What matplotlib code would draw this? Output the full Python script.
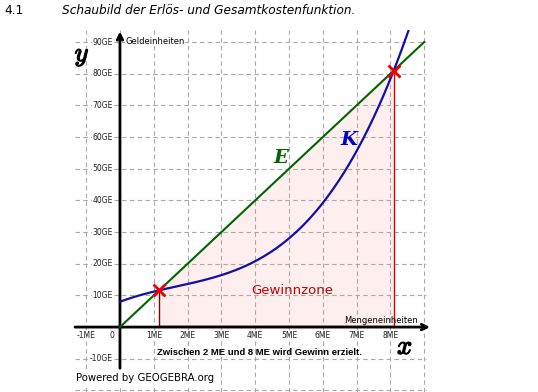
import matplotlib
matplotlib.use("Agg")
import matplotlib.pyplot as plt
import matplotlib.patheffects as pe
import numpy as np

# Kostenfunktion K(x) = a x^3 + b x^2 + c x + d, Erloesfunktion E(x) = p x
k_coeffs = [0.2, -1.0, 4.0, 8.0]
e_price = 10.0

x_ticks = [-1, 1, 2, 3, 4, 5, 6, 7, 8]
x_tick_labels = ["-1ME", "1ME", "2ME", "3ME", "4ME", "5ME", "6ME", "7ME", "8ME"]
y_ticks = [-10, 10, 20, 30, 40, 50, 60, 70, 80, 90]
y_tick_labels = ["-10GE", "10GE", "20GE", "30GE", "40GE", "50GE", "60GE", "70GE", "80GE", "90GE"]

xmin, xmax = -1.33, 9.2
ymin, ymax = -20.5, 93.8

plt.rcParams["mathtext.fontset"] = "cm"


def K(x):
    return np.polyval(k_coeffs, x)


def E(x):
    return e_price * np.asarray(x)


# Schnittpunkte K = E (Gewinnschwelle / -grenze)
diff = list(k_coeffs)
diff[2] -= e_price
roots = np.roots(diff)
roots = np.sort([r.real for r in roots if abs(r.imag) < 1e-9 and r.real > 0])
x1, x2 = roots[0], roots[1]

fig = plt.figure(figsize=(5.38, 3.92), dpi=100)
ax = fig.add_axes([75 / 538, 0, 356 / 538, 362 / 392])
ax.set_xlim(xmin, xmax)
ax.set_ylim(ymin, ymax)
ax.axis("off")

# Gitter
grid_kw = dict(color="#a8a8a8", lw=0.8, ls=(0, (4, 3)), zorder=1)
for gx in range(-1, 10):
    ax.axvline(gx, **grid_kw)
for gy in range(-20, 100, 10):
    if gy != 0:
        ax.plot([xmin, 9.05], [gy, gy], **grid_kw)

# Gewinnzone
xs = np.linspace(x1, x2, 200)
ax.fill_between(xs, 0, E(xs), color="#ffeeee", zorder=0.5, lw=0)
ax.plot([x1, x1], [0, E(x1)], color="#800000", lw=1, zorder=2)
ax.plot([x2, x2], [0, E(x2)], color="#e00000", lw=1, zorder=2)
ax.plot([x1, x2], [0.4, 0.4], color="#800000", lw=1, zorder=2)

# Achsen
ax.annotate("", xy=(xmax - 0.03, 0), xytext=(xmin, 0),
            arrowprops=dict(arrowstyle="->", lw=2, color="black",
                            shrinkA=0, shrinkB=0), zorder=3)
ax.annotate("", xy=(0, ymax - 0.5), xytext=(0, -13),
            arrowprops=dict(arrowstyle="->", lw=2, color="black",
                            shrinkA=0, shrinkB=0), zorder=3)

# Graphen
xe = np.linspace(0, 9, 100)
ax.plot(xe, E(xe), color="#006400", lw=1.5, zorder=4)
xk = np.linspace(0, 8.7, 300)
ax.plot(xk, K(xk), color="#1010a8", lw=1.6, zorder=4)
ax.plot([x1, x2], [E(x1), E(x2)], ls="none", marker="x", ms=9, mew=2,
        color="#ee0000", zorder=5)

# Beschriftungen der Achsen
for t, lab in zip(x_ticks, x_tick_labels):
    ax.text(t, -2.8, lab, fontsize=5.5, color="#222222", ha="center", va="center")
ax.text(-0.24, -2.8, "0", fontsize=5.5, color="#222222", ha="center", va="center")
for t, lab in zip(y_ticks, y_tick_labels):
    ax.text(-0.21, t, lab, fontsize=5.5, color="#222222", ha="right", va="center",
            bbox=dict(facecolor="white", edgecolor="none", pad=0.3))
ax.text(0.15, 90.3, "Geldeinheiten", fontsize=6, ha="left", va="center",
        bbox=dict(facecolor="white", edgecolor="none", pad=0.3))
ax.text(8.82, 2.0, "Mengeneinheiten", fontsize=6, ha="right", va="center")

bold_stroke = [pe.withStroke(linewidth=0.9, foreground="black")]
serif = dict(family="DejaVu Serif", style="italic", weight="bold")
ax.text(-1.12, 85.9, r"$y$", fontsize=19, ha="center", va="center",
        path_effects=bold_stroke)
ax.text(8.43, -6.3, r"$x$", fontsize=19, ha="center", va="center",
        path_effects=bold_stroke)
ax.text(4.76, 53.4, "E", fontsize=14, color="#006400", ha="center", va="center", **serif)
ax.text(6.78, 59.0, "K", fontsize=14, color="#0000c0", ha="center", va="center", **serif)

ax.text(5.09, 11.4, "Gewinnzone", fontsize=9.5, color="#c00000", ha="center", va="center")
ax.text(4.14, -7.9, "Zwischen 2 ME und 8 ME wird Gewinn erzielt.", fontsize=6.8,
        family="Liberation Sans", weight="bold", ha="center", va="center", zorder=6)
ax.text(-1.30, -16.1, "Powered by GEOGEBRA.org", fontsize=7.3, ha="left", va="center",
        zorder=6, bbox=dict(facecolor="white", edgecolor="none", pad=2.5))

fig.text(4 / 538, 1 - 10 / 392, "4.1", fontsize=8.7, ha="left", va="center")
fig.text(62 / 538, 1 - 10 / 392, "Schaubild der Erlös- und Gesamtkostenfunktion.",
         fontsize=8.7, style="italic", ha="left", va="center")

fig.savefig("out.png", dpi=100)
